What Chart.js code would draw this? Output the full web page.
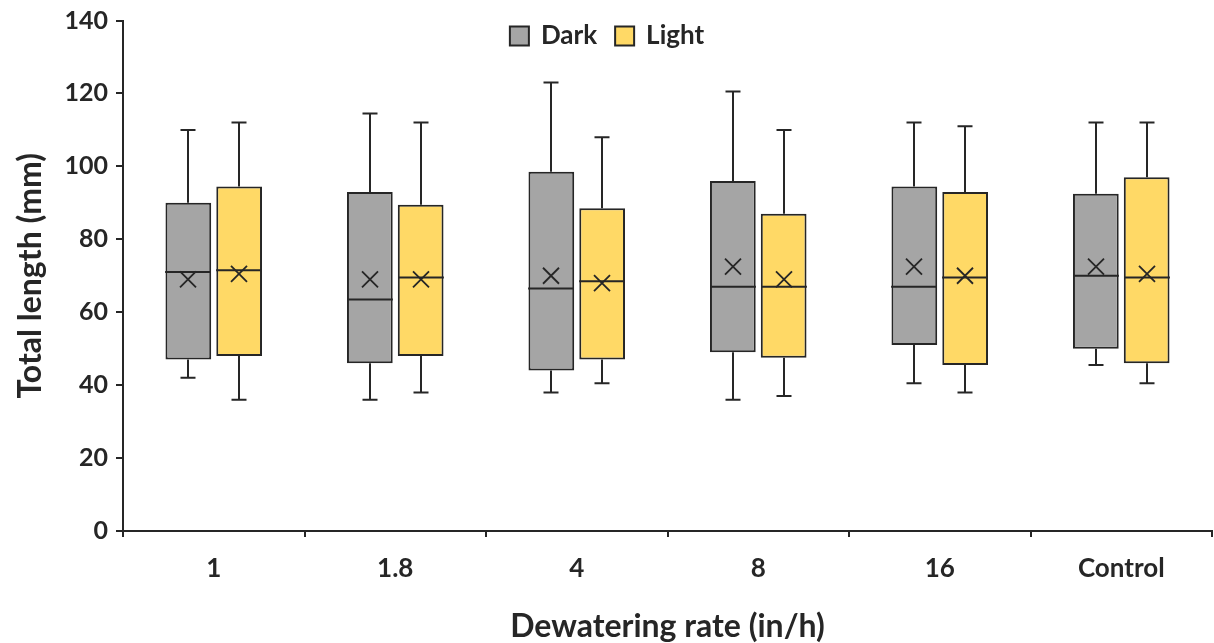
<!DOCTYPE html>
<html>
<head>
<meta charset="utf-8">
<script src="https://cdn.jsdelivr.net/npm/chart.js@4.4.1/dist/chart.umd.min.js"></script>
<style>
  html, body { margin: 0; padding: 0; background: #fff; }
  #wrap { width: 1214px; height: 643px; }
</style>
</head>
<body>
<div id="wrap"><canvas id="chart"></canvas></div>
<script>
const categories = ["1", "1.8", "4", "8", "16", "Control"];
const seriesNames = ["Dark", "Light"];
const yTicks = [0, 20, 40, 60, 80, 100, 120, 140];

// box plot values (mm)
const darkMin    = [42, 36, 38, 36, 40.5, 45.5];
const darkQ1     = [47, 46, 44, 49, 51, 50];
const darkMedian = [71, 63.5, 66.5, 67, 67, 70];
const darkQ3     = [90, 93, 98.5, 96, 94.5, 92.5];
const darkMax    = [110, 114.5, 123, 120.5, 112, 112];
const darkMean   = [69, 69, 70, 72.5, 72.5, 72.5];

const lightMin    = [36, 38, 40.5, 37, 38, 40.5];
const lightQ1     = [48, 48, 47, 47.5, 45.5, 46];
const lightMedian = [71.5, 69.5, 68.5, 67, 69.5, 69.5];
const lightQ3     = [94.5, 89.5, 88.5, 87, 93, 97];
const lightMax    = [112, 112, 108, 110, 111, 112];
const lightMean   = [70.5, 69, 68, 69, 70, 70.5];

const stats = [
  { min: darkMin, q1: darkQ1, median: darkMedian, q3: darkQ3, max: darkMax, mean: darkMean },
  { min: lightMin, q1: lightQ1, median: lightMedian, q3: lightQ3, max: lightMax, mean: lightMean }
];
const fills = ["#a5a5a5", "#ffd966"];
const ink = "#262626";
const fontFamily = "Lato, 'Open Sans', sans-serif";

// whiskers, medians, means and the legend
const boxPlotPlugin = {
  id: "boxPlot",
  afterDatasetsDraw(chart) {
    const ctx = chart.ctx;
    const yScale = chart.scales.y;
    ctx.save();
    ctx.strokeStyle = ink;
    chart.data.datasets.forEach((ds, i) => {
      const st = stats[i];
      chart.getDatasetMeta(i).data.forEach((bar, j) => {
        const x = Math.round(bar.x);
        const half = bar.width / 2;
        const pMin = yScale.getPixelForValue(st.min[j]);
        const pQ1 = yScale.getPixelForValue(st.q1[j]);
        const pMed = yScale.getPixelForValue(st.median[j]);
        const pQ3 = yScale.getPixelForValue(st.q3[j]);
        const pMax = yScale.getPixelForValue(st.max[j]);
        const pMean = yScale.getPixelForValue(st.mean[j]);

        ctx.lineWidth = 2;
        ctx.beginPath();
        ctx.moveTo(x, pQ3); ctx.lineTo(x, pMax);
        ctx.moveTo(x - 7.5, pMax); ctx.lineTo(x + 7.5, pMax);
        ctx.moveTo(x, pQ1); ctx.lineTo(x, pMin);
        ctx.moveTo(x - 7.5, pMin); ctx.lineTo(x + 7.5, pMin);
        ctx.moveTo(x - half, pMed); ctx.lineTo(x + half, pMed);
        ctx.stroke();

        ctx.lineWidth = 1.8;
        ctx.beginPath();
        ctx.moveTo(x - 8, pMean - 8); ctx.lineTo(x + 8, pMean + 8);
        ctx.moveTo(x - 8, pMean + 8); ctx.lineTo(x + 8, pMean - 8);
        ctx.stroke();
      });
    });
    ctx.restore();
  },
  afterDraw(chart) {
    const ctx = chart.ctx;
    ctx.save();
    ctx.font = "bold 26px " + fontFamily;
    ctx.textBaseline = "middle";
    const box = 19, gap = 12, spacing = 18;
    const widths = seriesNames.map(n => ctx.measureText(n).width);
    const total = widths.reduce((a, w) => a + box + gap + w, 0) + spacing * (seriesNames.length - 1);
    let x = chart.width / 2 - total / 2;
    const yc = 36;
    seriesNames.forEach((name, i) => {
      ctx.fillStyle = fills[i];
      ctx.fillRect(x, yc - box / 2, box, box);
      ctx.strokeStyle = ink;
      ctx.lineWidth = 2;
      ctx.strokeRect(x, yc - box / 2, box, box);
      ctx.fillStyle = ink;
      ctx.fillText(name, x + box + gap, yc);
      x += box + gap + widths[i] + spacing;
    });
    ctx.restore();
  }
};

new Chart(document.getElementById("chart"), {
  type: "bar",
  data: {
    labels: categories,
    datasets: seriesNames.map((name, i) => ({
      label: name,
      data: stats[i].q1.map((v, j) => [v, stats[i].q3[j]]),
      backgroundColor: fills[i],
      borderColor: ink,
      borderWidth: 2,
      borderSkipped: false,
      categoryPercentage: 0.56,
      barPercentage: 0.9
    }))
  },
  options: {
    responsive: true,
    maintainAspectRatio: false,
    animation: false,
    layout: { padding: { top: 20, right: 2, left: 0, bottom: 0 } },
    plugins: {
      legend: { display: false },
      tooltip: { enabled: false }
    },
    scales: {
      x: {
        offset: true,
        grid: { offset: true, drawOnChartArea: false, drawTicks: true, tickLength: 6, color: ink, lineWidth: 2 },
        border: { color: ink, width: 2 },
        ticks: { color: ink, padding: 16, font: { family: fontFamily, size: 26, weight: "bold" } },
        title: {
          display: true,
          text: "Dewatering rate (in/h)",
          color: ink,
          padding: { top: 0, bottom: 0 },
          font: { family: fontFamily, size: 32, weight: "bold", lineHeight: 1.0 }
        },
        afterFit(scale) { scale.height = 112; }
      },
      y: {
        min: 0,
        max: 140,
        afterBuildTicks(scale) { scale.ticks = yTicks.map(v => ({ value: v })); },
        grid: { drawOnChartArea: false, drawTicks: true, tickLength: 7, color: ink, lineWidth: 2 },
        border: { color: ink, width: 2 },
        ticks: { color: ink, padding: 8, font: { family: fontFamily, size: 25, weight: "bold", lineHeight: 1.0 } },
        title: {
          display: true,
          text: "Total length (mm)",
          color: ink,
          padding: { top: 11, bottom: 0 },
          font: { family: fontFamily, size: 32, weight: "bold", lineHeight: 1.2 }
        },
        afterFit(scale) { scale.width = 123; }
      }
    }
  },
  plugins: [boxPlotPlugin]
});
</script>
</body>
</html>
